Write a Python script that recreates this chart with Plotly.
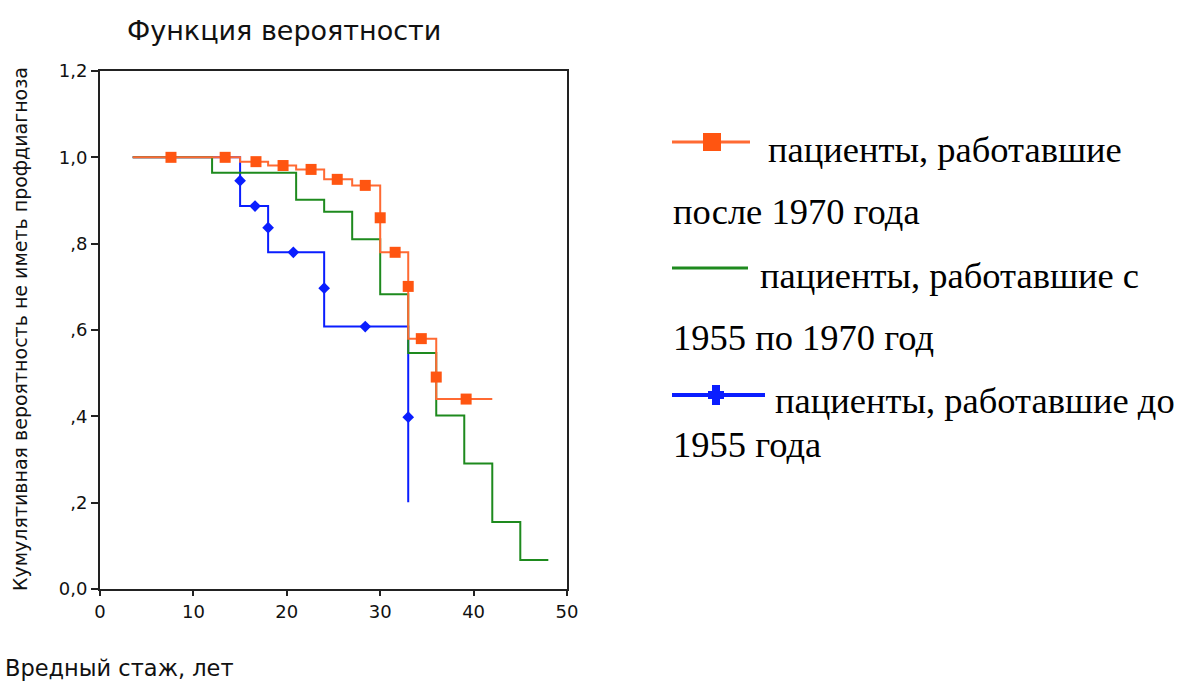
import plotly.graph_objects as go

W, H = 1191, 686

# ---- data ----
orange_t = [3.5, 15, 18, 21, 24, 27, 30, 33, 36, 42]
orange_s = [1.0, 0.990, 0.981, 0.972, 0.949, 0.935, 0.780, 0.580, 0.440, 0.440]
orange_cx = [7.6, 13.4, 16.7, 19.6, 22.6, 25.4, 28.4, 30, 31.6, 33, 34.4, 36, 39.2]
orange_cy = [1.0, 1.0, 0.990, 0.981, 0.972, 0.949, 0.935, 0.860, 0.780, 0.701, 0.580, 0.491, 0.440]

green_t = [3.5, 12, 21, 24, 27, 30, 33, 36, 39, 42, 45, 48]
green_s = [1.0, 0.964, 0.902, 0.874, 0.810, 0.683, 0.547, 0.402, 0.291, 0.155, 0.067, 0.067]

blue_t = [3.5, 15, 18, 24, 33]
blue_s = [1.0, 0.887, 0.780, 0.608, 0.201]
blue_cx = [15, 16.6, 18, 20.7, 24, 28.4, 33]
blue_cy = [0.946, 0.887, 0.837, 0.780, 0.697, 0.608, 0.398]

x_ticks = [0, 10, 20, 30, 40, 50]
y_ticks = [0.0, 0.2, 0.4, 0.6, 0.8, 1.0, 1.2]
y_ticktext = ["0,0", ",2", ",4", ",6", ",8", "1,0", "1,2"]

legend_lines = [
    "пациенты, работавшие",
    "после 1970 года",
    "пациенты, работавшие с",
    "1955 по 1970 год",
    "пациенты, работавшие до",
    "1955 года",
]

title = "Функция вероятности"
x_title = "Вредный стаж, лет"
y_title = "Кумулятивная вероятность не иметь профдиагноза"

C_OR_LINE = "#FF6A33"
C_OR_MARK = "#FF5511"
C_GREEN = "#1E8A1E"
C_BLUE = "#0A1EFF"

SANS = "DejaVu Sans"
SERIF = "Liberation Serif, Times New Roman, serif"

# plot area in pixels
PL, PR, PT, PB = 100, 567, 71, 589


def px(x):
    return x / W


def py(y):
    return 1 - y / H


fig = go.Figure()

fig.add_trace(go.Scatter(x=blue_t, y=blue_s, mode="lines", line=dict(color=C_BLUE, width=2, shape="hv"),
                         showlegend=False, hoverinfo="skip"))
fig.add_trace(go.Scatter(x=blue_cx, y=blue_cy, mode="markers",
                         marker=dict(symbol="diamond", size=9, color=C_BLUE), showlegend=False))
fig.add_trace(go.Scatter(x=green_t, y=green_s, mode="lines", line=dict(color=C_GREEN, width=2, shape="hv"),
                         showlegend=False, hoverinfo="skip"))
fig.add_trace(go.Scatter(x=orange_t, y=orange_s, mode="lines", line=dict(color=C_OR_LINE, width=2, shape="hv"),
                         showlegend=False, hoverinfo="skip"))
fig.add_trace(go.Scatter(x=orange_cx, y=orange_cy, mode="markers",
                         marker=dict(symbol="square", size=11, color=C_OR_MARK), showlegend=False))

axis_common = dict(showgrid=False, zeroline=False, showline=True, linecolor="#222222", linewidth=2,
                   mirror=True, ticks="outside", tickwidth=2, tickcolor="#222222", automargin=False,
                   tickfont=dict(family=SANS, size=18, color="#111111"))

fig.update_xaxes(range=[0, 50], tickvals=x_ticks, domain=[px(PL), px(PR)], ticklen=5, **axis_common)
fig.update_yaxes(range=[0, 1.2], tickvals=y_ticks, ticktext=y_ticktext, domain=[py(PB), py(PT)], ticklen=7,
                 **axis_common)

ann = []
ann.append(dict(text=title, x=px(284), y=py(30), xref="paper", yref="paper", showarrow=False,
                xanchor="center", yanchor="middle", font=dict(family=SANS, size=27, color="#111")))
ann.append(dict(text=x_title, x=px(3), y=py(668), xref="paper", yref="paper", showarrow=False,
                xanchor="left", yanchor="middle", font=dict(family=SANS, size=22.5, color="#111")))
ann.append(dict(text=y_title, x=px(20), y=py(329), xref="paper", yref="paper", showarrow=False, textangle=-90,
                xanchor="center", yanchor="middle", font=dict(family=SANS, size=19, color="#111")))

LEG_FS = 36.5
# (left x, baseline y) -> centre y = baseline - 0.35 * font size
leg_pos = [(766, 162), (671, 224), (758, 288), (671, 350), (773, 413), (671, 457)]
for t, (lx, lb) in zip(legend_lines, leg_pos):
    ann.append(dict(text=t, x=px(lx), y=py(lb - 0.35 * LEG_FS), xref="paper", yref="paper", showarrow=False,
                    xanchor="left", yanchor="middle",
                    font=dict(family=SERIF, size=LEG_FS, color="#000")))

shapes = []
# legend samples
shapes.append(dict(type="line", xref="paper", yref="paper", x0=px(672), x1=px(750), y0=py(142), y1=py(142),
                   line=dict(color=C_OR_LINE, width=3)))
shapes.append(dict(type="rect", xref="paper", yref="paper", x0=px(703), x1=px(721), y0=py(133), y1=py(151),
                   fillcolor=C_OR_MARK, line=dict(width=0)))
shapes.append(dict(type="line", xref="paper", yref="paper", x0=px(672), x1=px(748), y0=py(268), y1=py(268),
                   line=dict(color=C_GREEN, width=3)))
shapes.append(dict(type="line", xref="paper", yref="paper", x0=px(672), x1=px(765), y0=py(395), y1=py(395),
                   line=dict(color=C_BLUE, width=4)))
shapes.append(dict(type="rect", xref="paper", yref="paper", x0=px(712), x1=px(720), y0=py(385), y1=py(405),
                   fillcolor=C_BLUE, line=dict(width=0)))
shapes.append(dict(type="rect", xref="paper", yref="paper", x0=px(708), x1=px(724), y0=py(391), y1=py(399),
                   fillcolor=C_BLUE, line=dict(width=0)))

fig.update_layout(width=W, height=H, margin=dict(l=0, r=0, t=0, b=0, autoexpand=False), autosize=False,
                  paper_bgcolor="white", plot_bgcolor="white", annotations=ann, shapes=shapes,
                  showlegend=False)

fig.write_html("out.html")
